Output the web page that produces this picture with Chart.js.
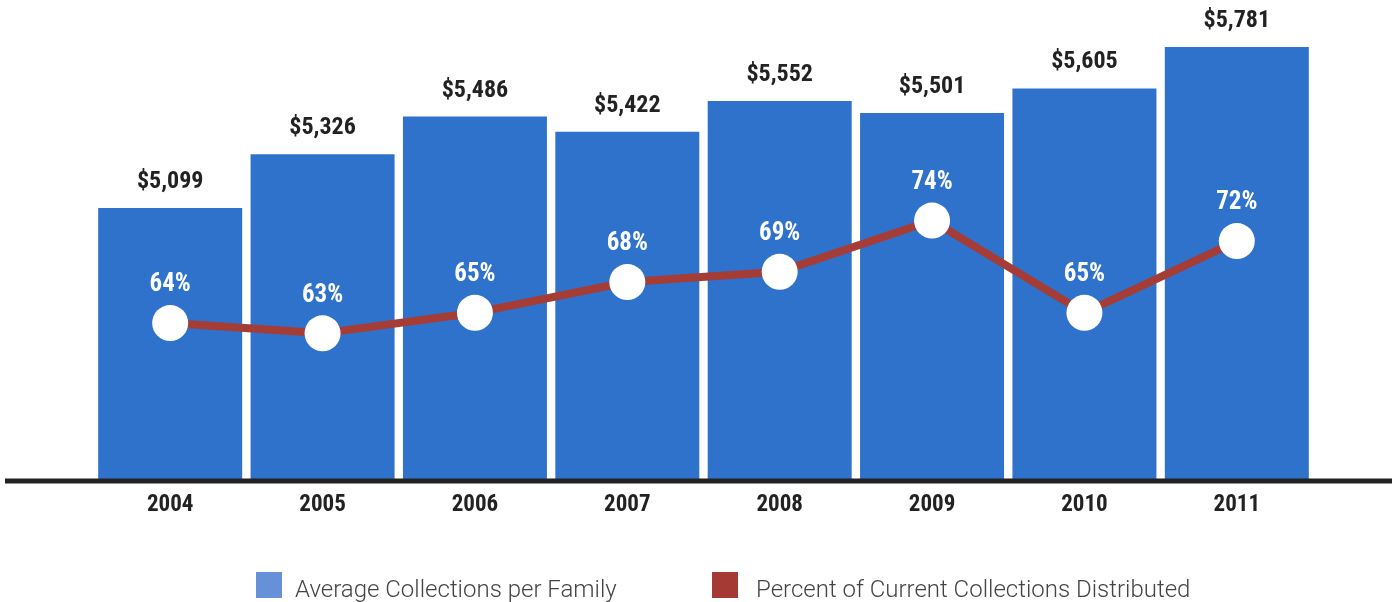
<!DOCTYPE html>
<html>
<head>
<meta charset="utf-8">
<title>Average Collections per Family</title>
<script src="https://cdn.jsdelivr.net/npm/chart.js@4.4.1/dist/chart.umd.min.js"></script>
<style>
    html, body { margin: 0; padding: 0; background: #fff; }
    #wrap { position: relative; width: 1392px; height: 602px; }
    #legend { position: absolute; top: 572px; left: 0; width: 1392px; height: 26px; }
    .item { position: absolute; top: 0; height: 26px; display: flex; align-items: center;
            font-family: Roboto, "Noto Sans", sans-serif; font-weight: 300; font-size: 24px; color: #444; white-space: nowrap; }
    .item span { position: relative; top: 4px; }
    .swatch { width: 26px; height: 26px; margin-right: 13px; }
</style>
</head>
<body>
<div id="wrap">
    <canvas id="myChart" width="1392" height="602"></canvas>
    <div id="legend"></div>
</div>
<script>
"use strict";

const years = ["2004", "2005", "2006", "2007", "2008", "2009", "2010", "2011"];
const avgCollections = [5099, 5326, 5486, 5422, 5552, 5501, 5605, 5781];
const pctDistributed = [64, 63, 65, 68, 69, 74, 65, 72];
const seriesNames = ["Average Collections per Family", "Percent of Current Collections Distributed"];

const barColor = "#2e72cc";
const lineColor = "#a63c36";
const legendColors = ["#6690d8", "#a53a35"];
const boldFont = '"Roboto Condensed", Roboto, sans-serif';

// value labels above bars and points, plus the long base rule
const labelsPlugin = {
    id: "valueLabels",
    afterDatasetsDraw(chart) {
        let ctx = chart.ctx;
        let area = chart.chartArea;

        ctx.save();
        ctx.strokeStyle = "#222";
        ctx.lineWidth = 5;
        ctx.beginPath();
        ctx.moveTo(5, area.bottom + 2);
        ctx.lineTo(chart.width, area.bottom + 2);
        ctx.stroke();

        ctx.textAlign = "center";
        ctx.textBaseline = "middle";
        ctx.font = "bold 24px " + boldFont;

        let bars = chart.getDatasetMeta(0).data;
        ctx.fillStyle = "#222";
        bars.forEach(function (bar, i) {
            ctx.fillText("$" + avgCollections[i].toLocaleString("en-US"), bar.x, bar.y - 26);
        });

        ctx.font = "bold 25px " + boldFont;
        let points = chart.getDatasetMeta(1).data;
        ctx.fillStyle = "#fff";
        points.forEach(function (pt, i) {
            ctx.fillText(pctDistributed[i] + "%", pt.x, pt.y - 38);
        });
        ctx.restore();
    }
};

let myChart = new Chart(document.getElementById("myChart"), {
    data: {
        labels: years,
        datasets: [
            {
                type: "bar",
                label: seriesNames[0],
                data: avgCollections,
                backgroundColor: barColor,
                borderWidth: 0,
                barPercentage: 0.945,
                categoryPercentage: 1,
                yAxisID: "y",
                order: 2
            },
            {
                type: "line",
                label: seriesNames[1],
                data: pctDistributed,
                borderColor: lineColor,
                borderWidth: 8,
                pointRadius: 18,
                pointHoverRadius: 18,
                pointBackgroundColor: "#fff",
                pointBorderColor: "#fff",
                pointBorderWidth: 0,
                tension: 0,
                clip: false,
                yAxisID: "y2",
                order: 1
            }
        ]
    },
    options: {
        responsive: false,
        animation: false,
        events: [],
        layout: { autoPadding: false, padding: { left: 94, right: 79, top: 0, bottom: 0 } },
        plugins: {
            legend: { display: false },
            tooltip: { enabled: false }
        },
        scales: {
            x: {
                offset: true,
                grid: { display: false, drawTicks: false },
                border: { display: false },
                ticks: {
                    color: "#222",
                    padding: 12,
                    font: { family: boldFont, size: 23, weight: "bold" }
                },
                afterFit: function (scale) { scale.height = 123; }
            },
            y: { display: false, min: 3950, max: 5980 },
            y2: { display: false, min: 48.8, max: 95.5 }
        }
    },
    plugins: [labelsPlugin]
});

// legend row under the axis
let legendLeft = [256, 712];
let legendBox = document.getElementById("legend");
seriesNames.forEach(function (name, i) {
    let item = document.createElement("div");
    item.className = "item";
    item.style.left = legendLeft[i] + "px";
    let sw = document.createElement("div");
    sw.className = "swatch";
    sw.style.background = legendColors[i];
    if (i == 1) sw.style.marginRight = "18px";
    let txt = document.createElement("span");
    txt.textContent = name;
    item.appendChild(sw);
    item.appendChild(txt);
    legendBox.appendChild(item);
});
</script>
</body>
</html>
